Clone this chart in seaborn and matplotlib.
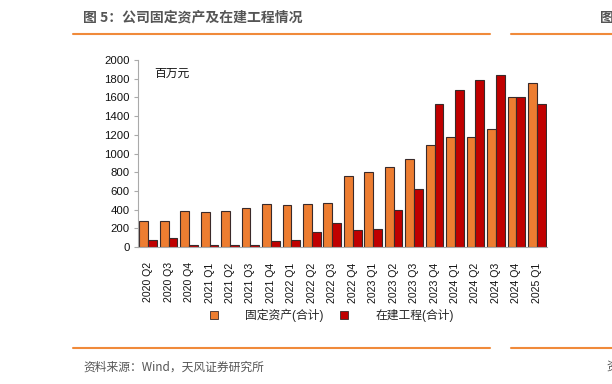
import matplotlib
matplotlib.use("Agg")
import matplotlib.pyplot as plt
import seaborn as sns
import pandas as pd
from matplotlib.lines import Line2D

quarters = ["2020 Q2", "2020 Q3", "2020 Q4", "2021 Q1", "2021 Q2", "2021 Q3", "2021 Q4",
            "2022 Q1", "2022 Q2", "2022 Q3", "2022 Q4", "2023 Q1", "2023 Q2", "2023 Q3",
            "2023 Q4", "2024 Q1", "2024 Q2", "2024 Q3", "2024 Q4", "2025 Q1"]
fixed_assets = [279, 275, 386, 379, 389, 414, 457, 450, 461, 473, 757, 800, 854, 946,
                1086, 1175, 1175, 1257, 1603, 1750]
construction = [71, 96, 18, 21, 21, 21, 61, 75, 161, 257, 186, 196, 393, 625,
                1528, 1678, 1789, 1836, 1603, 1525]
series_names = ["固定资产(合计)", "在建工程(合计)"]
colors = ["#ED7D31", "#C00000"]

df = pd.DataFrame({
    "quarter": quarters * 2,
    "value": fixed_assets + construction,
    "series": [series_names[0]] * len(quarters) + [series_names[1]] * len(quarters),
})

sns.set_theme(style="white")
plt.rcParams["font.family"] = ["Liberation Sans", "Noto Sans CJK SC", "DejaVu Sans"]

fig = plt.figure(figsize=(6.12, 3.84), dpi=100)
ax = fig.add_axes([138 / 612, 1 - 247 / 384, 409 / 612, 187 / 384])

sns.barplot(data=df, x="quarter", y="value", hue="series", palette=colors,
            width=0.86, gap=0, edgecolor="#3a2a2a", linewidth=0.8,
            saturation=1, legend=False, ax=ax)

ax.set_xlim(-0.5, len(quarters) - 0.5)
ax.set_ylim(0, 2000)
ax.set_yticks(range(0, 2001, 200))
ax.set_xlabel("")
ax.set_ylabel("")
ax.tick_params(axis="y", which="both", left=True, length=3, width=0.8, color="#aaaaaa",
               labelsize=8.2, pad=3, labelcolor="#111111")
ax.tick_params(axis="x", bottom=False, labelsize=7.6, pad=5, labelcolor="#111111")
ax.set_xticks(range(len(quarters)))
ax.set_xticklabels(quarters, rotation=90)
for s in ["top", "right"]:
    ax.spines[s].set_visible(False)
for s in ["left", "bottom"]:
    ax.spines[s].set_color("#aaaaaa")
    ax.spines[s].set_linewidth(0.8)
ax.grid(False)

ax.text(0.04, 0.96, "百万元", transform=ax.transAxes, fontsize=8.5, va="top", ha="left",
        color="#111111")

handles = [Line2D([0], [0], marker="s", linestyle="", markersize=5.5,
                  markerfacecolor=c, markeredgecolor="#3a2a2a", markeredgewidth=0.6)
           for c in colors]
fig.legend(handles, series_names, loc="center", bbox_to_anchor=(331 / 612, 1 - 315 / 384),
           ncol=2, frameon=False, fontsize=8.5, handletextpad=2.2, columnspacing=1.2,
           handlelength=1.0)

# title and decorative lines
fig.text(83 / 612, 1 - 18 / 384, "图 5：公司固定资产及在建工程情况", fontsize=10,
         fontweight="bold", color="#555555", va="center", ha="left",
         family=["Noto Sans CJK SC", "DejaVu Sans"])
fig.text(600 / 612, 1 - 18 / 384, "图", fontsize=10, fontweight="bold", color="#555555",
         va="center", ha="left", family=["Noto Sans CJK SC", "DejaVu Sans"])
for y in [34, 348]:
    fig.add_artist(Line2D([73 / 612, 490 / 612], [1 - y / 384, 1 - y / 384],
                          color="#F08A3A", linewidth=1.5))
    fig.add_artist(Line2D([511 / 612, 1.0], [1 - y / 384, 1 - y / 384],
                          color="#F08A3A", linewidth=1.5))
fig.text(83 / 612, 1 - 367 / 384, "资料来源：Wind，天风证券研究所", fontsize=8.5,
         color="#555555", va="center", ha="left",
         family=["Noto Sans CJK SC", "DejaVu Sans"])
fig.text(606 / 612, 1 - 367 / 384, "资", fontsize=8.5, color="#555555", va="center",
         ha="left", family=["Noto Sans CJK SC", "DejaVu Sans"])

fig.savefig("out.png", dpi=100)
